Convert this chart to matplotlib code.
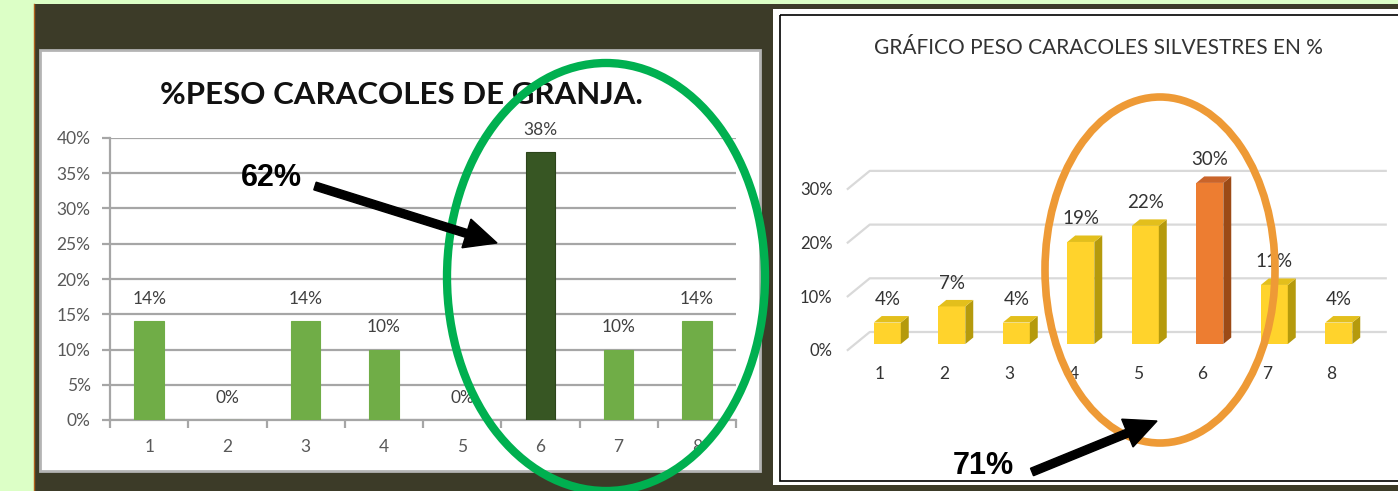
import matplotlib
matplotlib.use("Agg")
import matplotlib.pyplot as plt
from matplotlib.patches import Rectangle, Ellipse, Polygon, FancyArrow
import numpy as np

# ---------------- data ----------------
categories = ["1", "2", "3", "4", "5", "6", "7", "8"]
granja_pct = [14, 0, 14, 10, 0, 38, 10, 14]          # %PESO CARACOLES DE GRANJA
silvestres_pct = [4, 7, 4, 19, 22, 30, 11, 4]        # PESO CARACOLES SILVESTRES
granja_yticks = [0, 5, 10, 15, 20, 25, 30, 35, 40]
silv_yticks = [0, 10, 20, 30]
title_left = "%PESO CARACOLES DE GRANJA."
title_right = "GRÁFICO PESO CARACOLES SILVESTRES EN %"
note_left = "62%"
note_right = "71%"
highlight_left = 6      # dark bar
highlight_right = 6     # orange bar

W, H = 1398, 491
DPI = 100
fig = plt.figure(figsize=(W / DPI, H / DPI), dpi=DPI)

FONT = "Lato"

def fx(px):
    return px / W

def fy(py):
    return 1 - py / H

# ---------------- background canvas (pixel coords) ----------------
bg = fig.add_axes([0, 0, 1, 1], zorder=0)
bg.set_xlim(0, W)
bg.set_ylim(H, 0)
bg.axis("off")
bg.add_patch(Rectangle((0, 0), W, H, facecolor="#dcffc6", edgecolor="none"))
bg.add_patch(Rectangle((34, 4), W - 34, H - 4, facecolor="#3c3b28", edgecolor="none"))
bg.plot([34, 34], [4, H], color="#b0601c", lw=1)
# left white panel
bg.add_patch(Rectangle((40, 50), 720, 421, facecolor="white", edgecolor="#b4b4b4", lw=2))
# right white panel
bg.add_patch(Rectangle((773, 9), 640, 476, facecolor="white", edgecolor="none"))
bg.add_patch(Rectangle((780, 14.5), 640, 466, facecolor="none", edgecolor="black", lw=1.2))

bg.text(401, 95, title_left, ha="center", va="center", fontsize=22.5,
        fontweight="bold", family=FONT, color="#111111")
bg.text(1098, 48, title_right, ha="center", va="center", fontsize=15,
        family=FONT, color="#333333")

x = np.arange(1, len(categories) + 1)

# ---------------- left chart (2D bars) ----------------
axL = fig.add_axes([fx(110), fy(420), fx(736) - fx(110), fy(138) - fy(420)], zorder=1)
axL.patch.set_alpha(0)
colorsL = ["#375623" if i + 1 == highlight_left else "#70ad47" for i in range(len(x))]
axL.bar(x, granja_pct, width=0.38, color=colorsL,
        edgecolor=["#2c441b" if i + 1 == highlight_left else "#70ad47" for i in range(len(x))],
        lw=0.8, zorder=3)
axL.set_xlim(0.5, 8.5)
axL.set_ylim(0, 40)
axL.set_yticks(granja_yticks)
axL.set_yticklabels([f"{v}%" for v in granja_yticks])
axL.set_xticks(x)
axL.set_xticklabels(categories)
axL.set_xticks(np.arange(0.5, 9.0, 1.0), minor=True)
axL.grid(axis="y", color="#a6a6a6", lw=1.6, zorder=0)
axL.set_axisbelow(True)
for s in ["top", "right"]:
    axL.spines[s].set_visible(False)
axL.spines["left"].set_color("#a6a6a6")
axL.spines["bottom"].set_color("#a6a6a6")
axL.spines["left"].set_linewidth(1.6)
axL.spines["bottom"].set_linewidth(1.6)
axL.tick_params(axis="y", length=6, width=1.6, color="#a6a6a6", pad=8,
                labelsize=12.5, labelcolor="#595959")
axL.tick_params(axis="x", which="major", length=0, pad=14, labelsize=12.5,
                labelcolor="#595959")
axL.tick_params(axis="x", which="minor", length=6, width=1.6, color="#a6a6a6")
for lab in axL.get_xticklabels() + axL.get_yticklabels():
    lab.set_family(FONT)
for xi, v in zip(x, granja_pct):
    axL.annotate(f"{v}%", (xi, v), xytext=(0, 16), textcoords="offset points",
                 ha="center", va="center", fontsize=12.5, family=FONT, color="#404040")

# ---------------- right chart (pseudo-3D bars) ----------------
PX_PER_PCT = 5.37
PX_PER_CAT = 64.5
x0_px = 847.75
y0_px = 350
ymax = 40
axR = fig.add_axes([fx(x0_px), fy(y0_px), fx(x0_px + 8 * PX_PER_CAT) - fx(x0_px),
                    fy(y0_px - ymax * PX_PER_PCT) - fy(y0_px)], zorder=1)
axR.patch.set_alpha(0)
axR.set_xlim(0.5, 8.5)
axR.set_ylim(0, ymax)
for s in axR.spines.values():
    s.set_visible(False)

DX = 22 / PX_PER_CAT      # full floor depth, category units
DY = 18 / PX_PER_PCT      # full floor depth, % units
f_front = 0.333
thick = 0.36
bw = 27 / PX_PER_CAT

# back wall gridlines
for v in silv_yticks:
    axR.plot([0.5, 0.5 + DX, 8.5 + DX], [v, v + DY, v + DY], color="#d9d9d9",
             lw=1.6, clip_on=False, zorder=1)

for i, (xi, v) in enumerate(zip(x, silvestres_pct)):
    hl = (i + 1 == highlight_right)
    c_front = "#ed7d31" if hl else "#ffd32c"
    c_side = "#9c4a16" if hl else "#b59a0c"
    c_top = "#c9642a" if hl else "#e3bf1c"
    xl = xi + f_front * DX - bw / 2
    xr = xl + bw
    b = f_front * DY
    ddx, ddy = thick * DX, thick * DY
    axR.bar(xi + f_front * DX, v, width=bw, bottom=b, color=c_front, zorder=3)
    axR.add_patch(Polygon([(xr, b), (xr + ddx, b + ddy), (xr + ddx, b + v + ddy), (xr, b + v)],
                          closed=True, facecolor=c_side, edgecolor="none", zorder=3))
    axR.add_patch(Polygon([(xl, b + v), (xr, b + v), (xr + ddx, b + v + ddy), (xl + ddx, b + v + ddy)],
                          closed=True, facecolor=c_top, edgecolor="none", zorder=3))
    axR.annotate(f"{v}%", (xi + f_front * DX, b + v + ddy), xytext=(0, 12),
                 textcoords="offset points", ha="center", va="center",
                 fontsize=13.5, family=FONT, color="#333333", zorder=4)

axR.set_yticks(silv_yticks)
axR.set_yticklabels([f"{v}%" for v in silv_yticks])
axR.set_xticks(x)
axR.set_xticklabels(categories)
axR.tick_params(axis="y", length=0, pad=11, labelsize=12, labelcolor="#333333")
axR.tick_params(axis="x", length=0, pad=11.5, labelsize=12.5, labelcolor="#333333")
for lab in axR.get_xticklabels() + axR.get_yticklabels():
    lab.set_family(FONT)

# ---------------- overlay: ellipses, arrows, notes ----------------
ov = fig.add_axes([0, 0, 1, 1], zorder=5)
ov.set_xlim(0, W)
ov.set_ylim(H, 0)
ov.axis("off")
ov.patch.set_alpha(0)
ov.add_patch(Ellipse((606, 277), 318, 428, facecolor="none", edgecolor="#00b050", lw=6, clip_on=False))
ov.add_patch(Ellipse((1160, 270), 230, 346, facecolor="none", edgecolor="#ee9a36", lw=5.5, clip_on=False))

ov.add_patch(FancyArrow(315, 186, 497 - 315, 243 - 186, width=8, head_width=30,
                        head_length=32, length_includes_head=True, color="black"))
ov.add_patch(FancyArrow(1032, 472, 1157 - 1032, 421 - 472, width=8, head_width=30,
                        head_length=32, length_includes_head=True, color="black"))
ov.text(271, 178, note_left, ha="center", va="center", fontsize=22, fontweight="bold",
        family="Liberation Sans", color="black")
ov.text(983, 466, note_right, ha="center", va="center", fontsize=22, fontweight="bold",
        family="Liberation Sans", color="black")

fig.savefig("out.png", dpi=DPI)
